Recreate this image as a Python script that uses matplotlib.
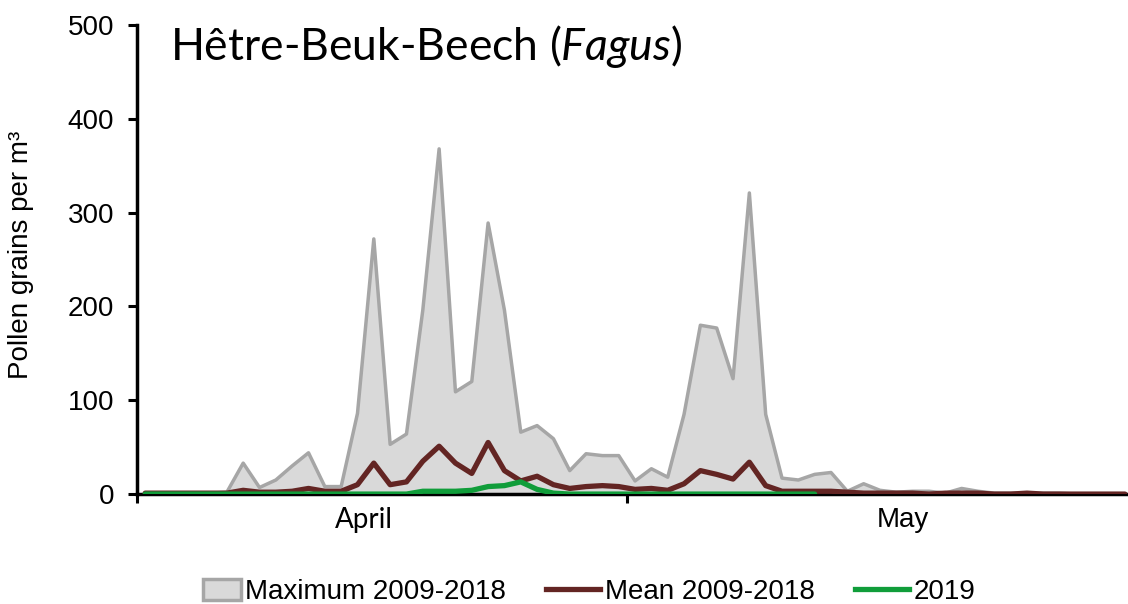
import numpy as np
import matplotlib.pyplot as plt
from matplotlib.patches import Patch, Rectangle
from matplotlib.lines import Line2D
from matplotlib.legend_handler import HandlerPatch

# daily values, 1 April .. 31 May (61 days)
max_0918 = [0, 0, 0, 0, 1, 2, 33, 7, 15, 30,
            44, 8, 8, 86, 272, 53, 64, 196, 368, 109,
            120, 289, 196, 66, 73, 59, 25, 43, 41, 41,
            14, 27, 18, 85, 180, 177, 123, 321, 85, 17,
            15, 21, 23, 3, 11, 4, 2, 3, 3, 1,
            6, 3, 1, 1, 1, 1, 1, 0, 0, 0, 0]
mean_0918 = [1, 1, 1, 1, 1, 1, 4, 2, 2, 3,
             6, 3, 3, 10, 33, 10, 13, 35, 51, 33,
             22, 55, 25, 14, 19, 10, 6, 8, 9, 8,
             5, 6, 4, 11, 25, 21, 16, 34, 9, 3,
             3, 3, 3, 2, 1, 1, 1, 1, 0, 1,
             1, 1, 0, 0, 1, 0, 0, 0, 0, 0, 0]
# 2019 season only up to 12 May
y2019 = [0, 0, 0, 0, 0, 0, 0, 0, 0, 0,
         0, 0, 0, 0, 0, 0, 0, 3, 3, 3,
         4, 8, 9, 13, 5, 1, 0, 0, 0, 0,
         0, 0, 0, 0, 0, 0, 0, 0, 0, 0,
         0, 0]

months = ['April', 'May']
month_days = [30, 31]

plt.rcParams['font.family'] = ['Liberation Sans', 'DejaVu Sans']
plt.rcParams['mathtext.fontset'] = 'custom'
plt.rcParams['mathtext.rm'] = 'Lato'
plt.rcParams['mathtext.it'] = 'Lato:italic'

fig = plt.figure(figsize=(11.28, 6.04), dpi=100)
ax = fig.add_axes([0.1215, 0.182, 0.883, 0.7765])

x = np.arange(len(max_0918))
x19 = np.arange(len(y2019))

ax.fill_between(x, 0, max_0918, color='#d9d9d9', zorder=1)
ax.plot(x, max_0918, color='#a6a6a6', lw=2.5, zorder=2)
ax.plot(x, mean_0918, color='#632523', lw=3.8, zorder=3, solid_capstyle='round')
ax.plot(x19, y2019, color='#109d3a', lw=3.8, zorder=4, solid_capstyle='round')

ax.set_xlim(-0.5, 60.5)
ax.set_ylim(0, 500)
ax.set_yticks([0, 100, 200, 300, 400, 500])
ax.tick_params(axis='y', labelsize=20, length=6.5, width=2.2, pad=10, direction='out')

# month boundaries as ticks, month names as minor labels
bounds = np.cumsum([0] + month_days) - 0.5
ax.set_xticks(bounds[:-1])
ax.set_xticklabels([])
ax.tick_params(axis='x', which='major', length=6.5, width=2.2, direction='out')
ax.set_xticks([13.4, 46.4], minor=True)
ax.set_xticklabels(months, minor=True)
ax.tick_params(axis='x', which='minor', length=0, labelsize=20, pad=9)
ax.get_xticklabels(minor=True)[0].set_family(['Lato', 'DejaVu Sans'])

for s in ['top', 'right']:
    ax.spines[s].set_visible(False)
for s in ['left', 'bottom']:
    ax.spines[s].set_linewidth(2.5)

ax.set_ylabel('Pollen grains per m³', fontsize=20)
ax.yaxis.set_label_coords(-0.103, 0.51)

ax.text(0.033, 0.925, r'Hêtre-Beuk-Beech ($\it{Fagus}$)', transform=ax.transAxes,
        fontsize=32, family=['Lato', 'DejaVu Sans'], va='baseline')


def small_box(legend, orig_handle, xdescent, ydescent, width, height, fontsize):
    w = 27
    return Rectangle((width - w - xdescent, -ydescent - 1), w, height + 1)


handles = [Patch(facecolor='#d9d9d9', edgecolor='#a6a6a6', lw=2.5),
           Line2D([], [], color='#632523', lw=3.8),
           Line2D([], [], color='#109d3a', lw=3.8)]
fig.legend(handles, ['Maximum 2009-2018', 'Mean 2009-2018', '2019'],
           loc='center', bbox_to_anchor=(0.515, 0.02), ncol=3, frameon=False,
           fontsize=20, handlelength=1.95, handletextpad=0.15, columnspacing=1.45,
           handler_map={Patch: HandlerPatch(patch_func=small_box)})

fig.savefig('out.png', dpi=100)
